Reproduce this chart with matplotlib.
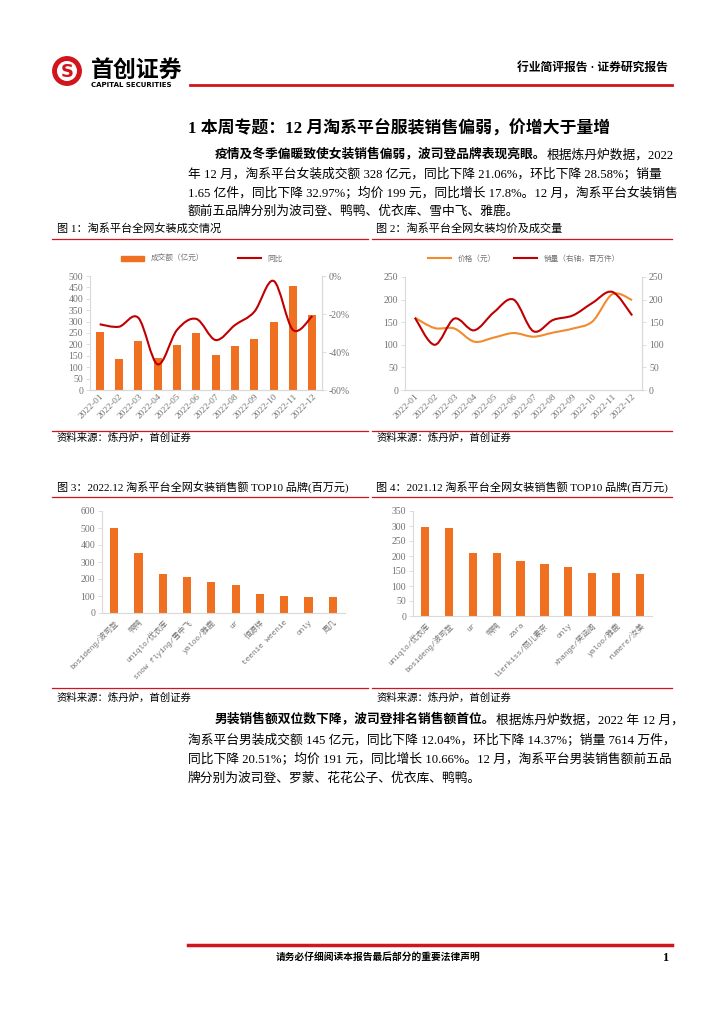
import numpy as np
import matplotlib
matplotlib.use("Agg")
import matplotlib.pyplot as plt
from matplotlib.lines import Line2D
from matplotlib.patches import Patch, PathPatch, Circle
from matplotlib.path import Path
from matplotlib.ticker import FuncFormatter

plt.rcParams['font.family'] = ['Liberation Serif', 'Noto Sans CJK SC', 'DejaVu Sans']
plt.rcParams['axes.unicode_minus'] = False

# ---- data ----
months = ['2022-01', '2022-02', '2022-03', '2022-04', '2022-05', '2022-06',
          '2022-07', '2022-08', '2022-09', '2022-10', '2022-11', '2022-12']
gmv = [256, 135, 215, 140, 199, 251, 154, 195, 224, 300, 458, 328]          # 亿元
gmv_yoy = [-25.4, -26.7, -22.0, -46.5, -28.4, -22.6, -33.7, -25.8, -18.8, -2.6, -28.4, -21.06]
price = [160, 137, 136, 107, 116, 126, 118, 127, 136, 152, 212, 199]       # 元
volume = [160, 100, 158, 132, 172, 200, 130, 155, 165, 193, 217, 165]      # 百万件

brands_2022 = ['bosideng/波司登', '鸭鸭', 'uniqlo/优衣库', 'snow flying/雪中飞', 'yaloo/雅鹿',
               'ur', '恒源祥', 'teenie weenie', 'only', '周几']
sales_2022 = [500, 355, 230, 210, 180, 162, 113, 100, 96, 95]
brands_2021 = ['uniqlo/优衣库', 'bosideng/波司登', 'ur', '鸭鸭', 'zara', 'lierkiss/丽儿素奈',
               'only', 'xhange/笑涵阁', 'yaloo/雅鹿', 'rumere/汝美']
sales_2021 = [298, 295, 211, 210, 184, 174, 164, 143, 143, 140]

W, H = 724, 1024
ORANGE = '#EE7020'
LORANGE = '#F28A2E'
DRED = '#C00000'
RED = '#D2141C'
GRAY = '#737373'
SPINE = '#D9D9D9'
CJK = ['Liberation Serif', 'Noto Sans CJK SC']
MONO = ['Liberation Mono', 'Noto Sans CJK SC']
BODY = 9.2

fig = plt.figure(figsize=(W / 100, H / 100), dpi=100)


def fx(x):
    return x / W


def fy(y):
    return 1 - y / H


def txt(x, y, s, **kw):
    kw.setdefault('va', 'center')
    kw.setdefault('family', CJK)
    return fig.text(fx(x), fy(y), s, **kw)


def hline(x0, x1, y, color=RED, lw=1.0):
    fig.add_artist(Line2D([fx(x0), fx(x1)], [fy(y), fy(y)], color=color, lw=lw,
                          transform=fig.transFigure))


def box(xl, yt, xr, yb):
    return fig.add_axes([fx(xl), fy(yb), (xr - xl) / W, (yb - yt) / H])


def smooth(xs, ys):
    pts = np.column_stack([xs, ys]).astype(float)
    n = len(pts)
    verts = [pts[0]]
    codes = [Path.MOVETO]
    for i in range(n - 1):
        p0 = pts[i - 1] if i > 0 else pts[i]
        p1, p2 = pts[i], pts[i + 1]
        p3 = pts[i + 2] if i + 2 < n else pts[i + 1]
        verts += [p1 + (p2 - p0) / 6, p2 - (p3 - p1) / 6, p2]
        codes += [Path.CURVE4] * 3
    return Path(verts, codes)


def style_ax(ax, right=False):
    for s in ['top', 'right', 'left', 'bottom']:
        ax.spines[s].set_color(SPINE)
        ax.spines[s].set_linewidth(0.8)
    ax.spines['top'].set_visible(False)
    if not right:
        ax.spines['right'].set_visible(False)
    ax.tick_params(axis='y', labelsize=7, colors=GRAY, length=3, width=0.6,
                   color=SPINE, pad=2)
    ax.tick_params(axis='x', length=0, labelsize=6.8, colors=GRAY, pad=2)
    ax.set_facecolor('none')


# ---- header ----
lax = fig.add_axes([fx(52), fy(86), 30 / W, 30 / H])
lax.set_xlim(-1, 1)
lax.set_ylim(-1, 1)
lax.set_aspect('equal')
lax.axis('off')
lax.add_patch(Circle((0, 0), 0.95, color=RED))
lax.add_patch(Circle((0, 0), 0.62, color='white'))
lax.text(0, -0.05, 'S', ha='center', va='center', color=RED, fontsize=13,
         fontweight='bold', family='DejaVu Sans')
txt(91, 70, '首创证券', fontsize=16.5, fontweight='bold', family=['Noto Sans CJK SC'])
txt(91, 85, 'CAPITAL SECURITIES', fontsize=5, fontweight='bold', family=['DejaVu Sans'])
txt(668, 68, '行业简评报告 · 证券研究报告', fontsize=8.5, fontweight='bold', ha='right')
hline(190, 672, 85, color=RED, lw=2.0)

# ---- title and paragraph 1 ----
txt(188, 128, '1 本周专题：12 月淘系平台服装销售偏弱，价增大于量增', fontsize=12.2,
    fontweight='bold')


def para_first(y, bold, rest):
    t = txt(215, y, bold, fontsize=BODY, fontweight='bold')
    r = fig.canvas.get_renderer()
    bb = t.get_window_extent(renderer=r)
    txt(bb.x1, y, rest, fontsize=BODY)


para_first(155, '疫情及冬季偏暖致使女装销售偏弱，波司登品牌表现亮眼。', '根据炼丹炉数据，2022')
txt(188, 174, '年 12 月，淘系平台女装成交额 328 亿元，同比下降 21.06%，环比下降 28.58%；销量', fontsize=BODY)
txt(188, 193, '1.65 亿件，同比下降 32.97%；均价 199 元，同比增长 17.8%。12 月，淘系平台女装销售', fontsize=BODY)
txt(188, 212, '额前五品牌分别为波司登、鸭鸭、优衣库、雪中飞、雅鹿。', fontsize=BODY)

# ---- figure titles / rules ----
txt(57, 228, '图 1：淘系平台全网女装成交情况', fontsize=8)
txt(376, 228, '图 2：淘系平台全网女装均价及成交量', fontsize=8)
hline(52, 368, 239, lw=0.9)
hline(372, 672, 239, lw=0.9)
hline(52, 368, 431, lw=0.9)
hline(372, 672, 431, lw=0.9)
txt(57, 438, '资料来源：炼丹炉，首创证券', fontsize=7.5, fontstyle='italic')
txt(377, 438, '资料来源：炼丹炉，首创证券', fontsize=7.5, fontstyle='italic')

txt(57, 487, '图 3：2022.12 淘系平台全网女装销售额 TOP10 品牌(百万元)', fontsize=8)
txt(376, 487, '图 4：2021.12 淘系平台全网女装销售额 TOP10 品牌(百万元)', fontsize=8)
hline(52, 368, 497, lw=0.9)
hline(372, 672, 497, lw=0.9)
hline(52, 368, 688, lw=0.9)
hline(372, 672, 688, lw=0.9)
txt(57, 698, '资料来源：炼丹炉，首创证券', fontsize=7.5, fontstyle='italic')
txt(377, 698, '资料来源：炼丹炉，首创证券', fontsize=7.5, fontstyle='italic')

# ---- chart 1 ----
x = np.arange(len(months))
ax1 = box(90, 276, 322, 390)
ax1.bar(x, gmv, width=0.42, color=ORANGE, zorder=2)
ax1.set_xlim(-0.5, len(months) - 0.5)
ax1.set_ylim(0, 500)
ax1.set_yticks(np.arange(0, 501, 50))
ax1.set_xticks(x)
ax1.set_xticklabels(months, rotation=45, ha='right', rotation_mode='anchor')
style_ax(ax1, right=True)
ax1b = ax1.twinx()
ax1b.set_ylim(-60, 0)
ax1b.set_yticks([-60, -40, -20, 0])
ax1b.yaxis.set_major_formatter(FuncFormatter(lambda v, p: '%d%%' % v))
style_ax(ax1b, right=True)
ax1b.spines['left'].set_visible(False)
ax1b.add_patch(PathPatch(smooth(x, gmv_yoy), fill=False, ec=DRED, lw=1.5, zorder=3))
fig.legend([Patch(color=ORANGE), Line2D([], [], color=DRED, lw=1.5)],
           ['成交额（亿元）', '同比'], loc='center', ncol=2, frameon=False,
           bbox_to_anchor=(fx(202), fy(259)), prop={'family': CJK, 'size': 5.5},
           labelcolor=GRAY, handlelength=3.0, handleheight=0.6, columnspacing=4.5)

# ---- chart 2 ----
ax2 = box(405, 277, 642, 390)
ax2.set_xlim(-0.5, len(months) - 0.5)
ax2.set_ylim(0, 250)
ax2.set_yticks(np.arange(0, 251, 50))
ax2.set_xticks(x)
ax2.set_xticklabels(months, rotation=45, ha='right', rotation_mode='anchor')
style_ax(ax2, right=True)
ax2.add_patch(PathPatch(smooth(x, price), fill=False, ec=LORANGE, lw=1.5, zorder=3))
ax2b = ax2.twinx()
ax2b.set_ylim(0, 250)
ax2b.set_yticks(np.arange(0, 251, 50))
style_ax(ax2b, right=True)
ax2b.spines['left'].set_visible(False)
ax2b.add_patch(PathPatch(smooth(x, volume), fill=False, ec=DRED, lw=1.5, zorder=3))
fig.legend([Line2D([], [], color=LORANGE, lw=1.5), Line2D([], [], color=DRED, lw=1.5)],
           ['价格（元）', '销量（右轴，百万件）'], loc='center', ncol=2, frameon=False,
           bbox_to_anchor=(fx(524), fy(259)), prop={'family': CJK, 'size': 5.5},
           labelcolor=GRAY, handlelength=3.0, columnspacing=2.5)

# ---- chart 3 ----
xb = np.arange(len(brands_2022))
ax3 = box(102, 511, 345, 613)
ax3.bar(xb, sales_2022, width=0.34, color=ORANGE, zorder=2)
ax3.set_xlim(-0.5, len(brands_2022) - 0.5)
ax3.set_ylim(0, 600)
ax3.set_yticks(np.arange(0, 601, 100))
ax3.set_xticks(xb)
ax3.set_xticklabels(brands_2022, rotation=45, ha='right', rotation_mode='anchor',
                    family=MONO)
style_ax(ax3)
ax3.tick_params(axis='x', labelsize=5.6, pad=4)

# ---- chart 4 ----
xb4 = np.arange(len(brands_2021))
ax4 = box(413, 511, 652, 616)
ax4.bar(xb4, sales_2021, width=0.34, color=ORANGE, zorder=2)
ax4.set_xlim(-0.5, len(brands_2021) - 0.5)
ax4.set_ylim(0, 350)
ax4.set_yticks(np.arange(0, 351, 50))
ax4.set_xticks(xb4)
ax4.set_xticklabels(brands_2021, rotation=45, ha='right', rotation_mode='anchor',
                    family=MONO)
style_ax(ax4)
ax4.tick_params(axis='x', labelsize=5.6, pad=4)

# ---- paragraph 2 ----
para_first(720, '男装销售额双位数下降，波司登排名销售额首位。', '根据炼丹炉数据，2022 年 12 月，')
txt(188, 740, '淘系平台男装成交额 145 亿元，同比下降 12.04%，环比下降 14.37%；销量 7614 万件，', fontsize=BODY)
txt(188, 759, '同比下降 20.51%；均价 191 元，同比增长 10.66%。12 月，淘系平台男装销售额前五品', fontsize=BODY)
txt(188, 778, '牌分别为波司登、罗蒙、花花公子、优衣库、鸭鸭。', fontsize=BODY)

# ---- footer ----
hline(188, 672, 945, color=RED, lw=2.5)
txt(378, 957, '请务必仔细阅读本报告最后部分的重要法律声明', fontsize=7, fontweight='bold', ha='center')
txt(668, 958, '1', fontsize=9, fontweight='bold', ha='right')

fig.savefig('out.png', dpi=100)
